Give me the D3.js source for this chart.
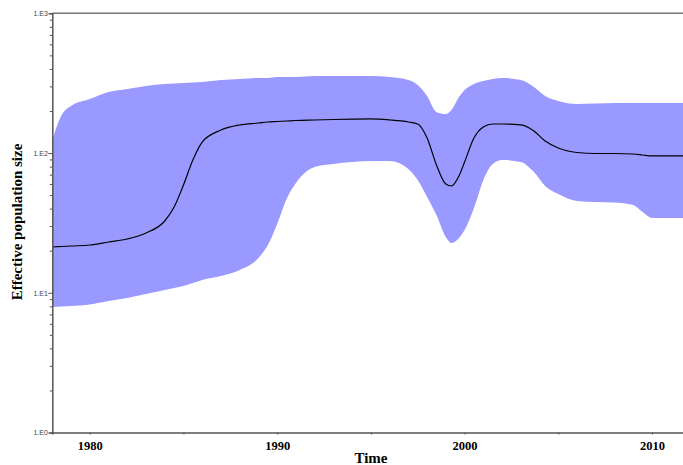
<!DOCTYPE html>
<html>
<head>
<meta charset="utf-8">
<script src="https://cdn.jsdelivr.net/npm/d3@7"></script>
<style>
  body { margin: 0; background: #fff; }
  svg { display: block; }
</style>
</head>
<body>
<div id="chart"></div>
<script>
// skyline data
var years = [1978.0, 1978.5, 1979.0, 1980.0, 1981.0, 1982.0, 1983.0, 1984.0, 1984.5, 1985.0,
	1985.5, 1986.0, 1987.0, 1988.0, 1989.0, 1989.5, 1990.0, 1990.5, 1991.0, 1992.0,
	1993.0, 1995.0, 1996.0, 1997.0, 1997.5, 1998.0, 1998.5, 1999.0, 1999.3, 1999.7,
	2000.0, 2000.5, 2001.0, 2001.5, 2002.0, 2003.0, 2003.7, 2004.3, 2005.0, 2006.0,
	2007.0, 2008.0, 2009.0, 2009.5, 2010.0, 2011.0, 2012.0];

var upper95 = [123.9, 187.2, 217.0, 243.6, 273.4, 287.2, 301.7, 311.9, 314.5, 317.1,
	319.7, 322.4, 333.2, 338.7, 344.4, 344.4, 350.1, 350.1, 350.1, 355.9,
	355.9, 355.9, 350.1, 333.2, 306.9, 255.9, 196.7, 190.3, 203.3, 251.8,
	282.5, 311.9, 327.7, 338.7, 344.4, 333.2, 296.8, 255.9, 235.7, 224.3,
	226.2, 228.1, 228.1, 228.1, 228.1, 228.1, 228.1];

var median = [21.26, 21.43, 21.61, 21.97, 23.08, 24.26, 26.77, 32.63, 41.09, 59.04,
	89.15, 119.9, 146.1, 158.8, 164.0, 166.8, 168.2, 169.6, 171.0, 172.4,
	173.8, 175.3, 172.4, 166.8, 161.4, 128.1, 82.1, 60.0, 58.1, 68.5,
	86.3, 128.1, 153.6, 161.4, 161.4, 158.8, 143.8, 121.9, 108.6, 100.9,
	99.2, 99.2, 98.4, 96.8, 95.3, 95.3, 95.3];

var lower95 = [7.91, 7.97, 8.04, 8.24, 8.73, 9.17, 9.80, 10.46, 10.82, 11.18,
	11.75, 12.34, 13.18, 14.55, 17.73, 21.97, 31.05, 46.89, 61.03, 79.43,
	83.46, 87.70, 87.70, 76.86, 64.12, 48.46, 36.02, 25.07, 22.71, 24.65,
	28.13, 40.42, 64.12, 83.46, 89.15, 86.3, 73.15, 58.1, 50.9, 45.4,
	44.6, 44.3, 42.5, 37.8, 34.3, 34.3, 34.3];

var xTickYears = [1980, 1990, 2000, 2010];
var xMinorYears = [1985, 1995, 2005];
var yTickValues = [1, 10, 100, 1000];
var yTickLabels = ["1.E0", "1.E1", "1.E2", "1.E3"];

var W = 683, H = 465;
var margin = { left: 52.3, top: 13.3, bottom: 32.5 };

var svg = d3.select("#chart").append("svg")
	.attr("width", W)
	.attr("height", H);

var x = d3.scaleLinear()
	.domain([1978, 2012])
	.range([margin.left, margin.left + 34 * 18.74]);

var y = d3.scaleLog()
	.domain([1, 1000])
	.range([H - margin.bottom, margin.top]);

var rows = years.map(function(d, i) {
	return { year: d, lo: lower95[i], mid: median[i], hi: upper95[i] };
});

// HPD band
var area = d3.area()
	.curve(d3.curveMonotoneX)
	.x(function(d) { return x(d.year); })
	.y0(function(d) { return y(d.lo); })
	.y1(function(d) { return y(d.hi); });

svg.append("path")
	.datum(rows)
	.attr("d", area)
	.attr("fill", "#9999ff");

var line = d3.line()
	.curve(d3.curveMonotoneX)
	.x(function(d) { return x(d.year); })
	.y(function(d) { return y(d.mid); });

svg.append("path")
	.datum(rows)
	.attr("d", line)
	.attr("fill", "none")
	.attr("stroke", "#000")
	.attr("stroke-width", 1.2);

// top frame line
svg.append("line")
	.attr("x1", margin.left).attr("x2", W)
	.attr("y1", y(1000)).attr("y2", y(1000))
	.attr("stroke", "#777")
	.attr("stroke-width", 1.5);

// y axis with log minor ticks
var yAxis = d3.axisLeft(y)
	.tickValues(y.ticks())
	.tickSize(3)
	.tickFormat(function(d) {
		var i = yTickValues.indexOf(d);
		return i >= 0 ? yTickLabels[i] : "";
	});

var gy = svg.append("g")
	.attr("transform", "translate(" + margin.left + ",0)")
	.call(yAxis);

gy.select(".domain").attr("stroke", "#555").attr("stroke-width", 1.5);
gy.selectAll(".tick line")
	.attr("stroke", "#555")
	.attr("x2", function(d) { return yTickValues.indexOf(d) >= 0 ? -4 : -2.5; });
gy.selectAll(".tick text")
	.attr("x", -4.5)
	.attr("font-family", "Arial, 'Liberation Sans', sans-serif")
	.attr("font-size", 7)
	.attr("fill", "#444");

// x axis
var xAxis = d3.axisBottom(x)
	.tickValues(xTickYears.concat(xMinorYears))
	.tickSize(2)
	.tickFormat(function(d) { return xTickYears.indexOf(d) >= 0 ? d : ""; });

var gx = svg.append("g")
	.attr("transform", "translate(0," + (H - margin.bottom) + ")")
	.call(xAxis);

gx.select(".domain").attr("stroke", "#555").attr("stroke-width", 1.5);
gx.selectAll(".tick line").attr("stroke", "#555");
gx.selectAll(".tick text")
	.attr("y", 9)
	.attr("font-family", "'Liberation Serif', 'Times New Roman', serif")
	.attr("font-weight", "bold")
	.attr("font-size", 12.5)
	.attr("fill", "#000");

// axis titles
svg.append("text")
	.attr("x", 371)
	.attr("y", 463)
	.attr("text-anchor", "middle")
	.attr("font-family", "'Liberation Serif', 'Times New Roman', serif")
	.attr("font-weight", "bold")
	.attr("font-size", 15)
	.text("Time");

svg.append("text")
	.attr("transform", "translate(22,222) rotate(-90)")
	.attr("text-anchor", "middle")
	.attr("font-family", "'Liberation Serif', 'Times New Roman', serif")
	.attr("font-weight", "bold")
	.attr("font-size", 15)
	.text("Effective population size");
</script>
</body>
</html>
